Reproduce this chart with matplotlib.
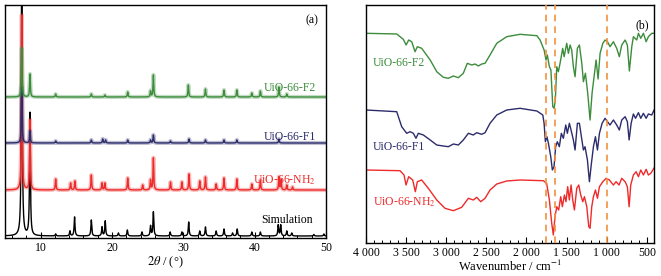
import numpy as np
import matplotlib
matplotlib.use("Agg")
import matplotlib.pyplot as plt
from matplotlib.ticker import MultipleLocator, FixedLocator, FixedFormatter

plt.rcParams["font.family"] = ["Liberation Serif", "DejaVu Serif"]
plt.rcParams["mathtext.fontset"] = "stix"

# ---- (a) XRD: peak positions (2theta, deg) and heights (a.u.) ----
sim_pos = [7.35, 8.5, 12.1, 14.1, 14.75, 17.1, 18.6, 19.05, 20.9, 22.15, 24.2, 25.4, 25.8,
           28.15, 29.8, 30.75, 32.3, 33.1, 34.6, 35.7, 36.9, 37.55, 39.6, 40.8, 43.3, 43.65,
           44.5, 45.2, 48.3, 49.7]
sim_int = [300, 123, 2, 5, 19, 16, 9, 15, 3, 6, 4, 10, 24,
           4, 4, 14, 5, 9, 5, 7, 3, 7, 4, 4, 11, 11,
           5, 3, 1.5, 2]

nh2_pos = [7.35, 8.5, 12.1, 14.2, 14.8, 17.1, 18.6, 19.0, 22.2, 24.3, 25.4, 25.8, 28.2,
           29.8, 30.8, 32.3, 33.1, 34.6, 35.7, 37.5, 39.6, 40.8, 43.4, 43.7, 44.5, 45.3]
nh2_int = [175, 70, 11, 7, 9, 15, 7, 7, 12, 5, 10, 32, 8,
           8, 16, 9, 13, 6, 12, 11, 6, 10, 13, 10, 5, 3]

f1_pos = [7.35, 8.5, 12.1, 17.1, 18.7, 19.1, 22.2, 25.4, 25.8, 28.2, 30.8, 33.1, 35.7, 37.5, 43.4]
f1_int = [56, 12, 2, 3, 4, 3, 3, 3, 8, 2, 4, 3, 3, 3, 4]

f2_pos = [7.35, 8.5, 12.1, 17.1, 19.0, 22.2, 25.4, 25.8, 30.7, 33.1, 35.7, 37.5, 39.6, 40.8,
          43.4, 44.5]
f2_int = [49, 23, 3, 3, 2, 5, 6, 22, 12, 8, 7, 7, 4, 6, 10, 3]

xrd_offsets = {"sim": 2, "nh2": 48, "f1": 95, "f2": 141}

# ---- (b) FTIR: wavenumber (cm-1) and transmittance (a.u., stacked) ----
ir_f2_wn = [4000, 3617, 3535, 3500, 3468, 3430, 3389, 3360, 3306, 3200, 3118, 3036, 2974, 2911,
            2849, 2787, 2737, 2682, 2641, 2600, 2557, 2516, 2454, 2370, 2246, 2080, 1870, 1830,
            1780, 1756, 1740, 1714, 1695, 1672, 1655, 1640, 1622, 1602, 1581, 1548, 1530, 1498,
            1477, 1456, 1436, 1415, 1394, 1365, 1340, 1310, 1290, 1265, 1236, 1207, 1182, 1157,
            1132, 1107, 1082, 1048, 1020, 990, 958, 916, 875, 842, 812, 770, 742, 717, 687, 667,
            625, 604, 575, 542, 508, 480, 438, 409]
ir_f2_t = [209.7, 209, 203.7, 198, 203, 201.3, 191.3, 196.3, 194.7, 183, 171.3, 165.7, 164.7, 167,
           165.3, 169.7, 179.7, 178, 179, 177, 179, 179.7, 188, 199.7, 206.3, 208.7, 207.3, 203,
           193, 183, 188, 176.3, 173, 136.3, 134.7, 143, 176.3, 171.3, 179.7, 194.7, 186.3, 199.7,
           189.7, 198, 193, 176.3, 166.3, 194.7, 198, 179.7, 161.3, 169.7, 149.7, 123, 149.7, 166.3,
           183, 164, 189.7, 199.7, 203, 201.3, 196.3, 201.3, 194.7, 186.3, 198, 203, 198, 172, 196.3, 206.3,
           203, 209.7, 204.7, 209.7, 201.3, 206.3, 209.7, 209.7]

ir_f1_wn = [4000, 3617, 3555, 3493, 3450, 3410, 3377, 3348, 3285, 3200, 3118, 3036, 2974, 2911,
            2849, 2787, 2724, 2662, 2620, 2557, 2516, 2454, 2370, 2246, 2080, 1870, 1796, 1780,
            1764, 1745, 1726, 1697, 1677, 1656, 1636, 1615, 1590, 1565, 1540, 1510, 1490, 1465,
            1444, 1415, 1394, 1365, 1340, 1315, 1290, 1270, 1240, 1215, 1190, 1165, 1140, 1115,
            1090, 1057, 1020, 990, 958, 916, 875, 842, 812, 770, 742, 720, 695, 667, 640, 604,
            575, 542, 508, 480, 438, 409]
ir_f1_t = [133, 131.3, 116.3, 109.7, 111.3, 109.7, 104.7, 109.7, 108, 103, 98, 97, 96.3, 99,
           98, 103, 109.7, 108, 110.3, 108.7, 110.3, 119.7, 128, 133, 134.7, 132, 128, 119.7,
           101.3, 106.3, 99.7, 86.3, 73, 76.3, 96.3, 101.3, 96.3, 109.7, 104.7, 118, 109.7, 119.7,
           113, 103, 93, 119.7, 119.7, 106.3, 93, 96.3, 83, 61.3, 79.7, 96.3, 106.3, 93,
           109.7, 119.7, 124.7, 121.3, 118, 123, 118, 113, 123, 126.3, 121.3, 103, 119.7, 129, 124.7, 130.3,
           124.7, 129.7, 124.7, 129, 128, 133]

ir_nh2_wn = [4000, 3576, 3526, 3501, 3468, 3418, 3385, 3360, 3306, 3223, 3118, 3015, 2911, 2807,
             2724, 2662, 2620, 2570, 2516, 2454, 2370, 2246, 2080, 1790, 1748, 1714, 1685, 1665,
             1644, 1622, 1598, 1573, 1552, 1527, 1507, 1486, 1465, 1444, 1423, 1402, 1373, 1348,
             1323, 1298, 1277, 1248, 1223, 1207, 1186, 1165, 1140, 1115, 1090, 1048, 1007, 966,
             916, 883, 846, 812, 770, 742, 720, 700, 667, 633, 604, 575, 542, 508, 480, 450, 409]
ir_nh2_t = [73, 72.3, 68, 58, 66.3, 63, 51.3, 61.3, 63, 54.7, 43, 34.7, 32.3, 35.7,
            44.7, 43, 45.7, 41.3, 44.7, 53, 59, 62, 63, 62.3, 59.7, 43, 19.7, 8,
            26.3, 36.3, 33, 46.3, 36.3, 48, 41.3, 56.3, 43, 58, 43, 33, 54.7, 58,
            48, 41.3, 46.3, 36.3, 16.3, 14.7, 36.3, 46.3, 53, 44.7, 56.3, 61.3, 64.7, 63,
            58, 61.3, 58, 64.7, 61.3, 56.3, 36.3, 58, 68, 71.3, 66.3, 73, 68, 73.7, 68, 69.7, 75]

marker_wn = [1755, 1640, 990]

C_GREEN = "#3c8c3c"
C_NAVY = "#2c2c6c"
C_RED = "#ee2a2a"
C_ORANGE = "#f2913e"


def pattern(x, pos, inten, hw):
    y = np.zeros_like(x)
    for p, h in zip(pos, inten):
        y += h / (1.0 + ((x - p) / hw) ** 2)
    return y


fig = plt.figure(figsize=(6.61, 2.76), dpi=100)
ax1 = fig.add_axes([5 / 661, 38 / 276, 321 / 661, 233 / 276])
ax2 = fig.add_axes([366 / 661, 33 / 276, 288 / 661, 238 / 276])

# ---- panel (a) ----
tt = np.linspace(5, 50, 6000)
curves = [
    (sim_pos, sim_int, 0.07, xrd_offsets["sim"], "black"),
    (nh2_pos, nh2_int, 0.06, xrd_offsets["nh2"], C_RED),
    (f1_pos, f1_int, 0.06, xrd_offsets["f1"], C_NAVY),
    (f2_pos, f2_int, 0.06, xrd_offsets["f2"], C_GREEN),
]
for pos, inten, hw, off, col in curves:
    y = off + pattern(tt, pos, inten, hw)
    if col != "black":
        # soft band standing in for the measured noise
        ax1.plot(tt, y, color=col, lw=3.0, alpha=0.3, solid_capstyle="butt")
    ax1.plot(tt, y, color=col, lw=1.0)

ax1.set_xlim(5, 50)
ax1.set_ylim(0, 233)
ax1.set_yticks([])
ax1.xaxis.set_major_locator(FixedLocator([10, 20, 30, 40, 50]))
ax1.xaxis.set_minor_locator(MultipleLocator(2))
ax1.set_xlabel(r"$\mathit{2\theta}$ / (°)", fontsize=9, labelpad=0)

ax1.text(48.6, 150, "UiO-66-F2", color=C_GREEN, ha="right", va="center", fontsize=8.5)
ax1.text(48.6, 101, "UiO-66-F1", color=C_NAVY, ha="right", va="center", fontsize=8.5)
ax1.text(48.6, 58, r"UiO-66-NH$_2$", color=C_RED, ha="right", va="center", fontsize=8.5)
ax1.text(48.2, 18, "Simulation", color="black", ha="right", va="center", fontsize=8.5)
ax1.text(48.9, 218, "(a)", color="black", ha="right", va="center", fontsize=8.5)

# ---- panel (b) ----
for wn, t, col in [(ir_nh2_wn, ir_nh2_t, C_RED), (ir_f1_wn, ir_f1_t, C_NAVY),
                   (ir_f2_wn, ir_f2_t, C_GREEN)]:
    ax2.plot(wn, t, color=col, lw=1.0)
for m in marker_wn:
    ax2.axvline(m, color=C_ORANGE, lw=1.2, ls=(0, (4, 3)), zorder=5)

ax2.set_xlim(4000, 410)
ax2.set_ylim(0, 238)
ax2.set_yticks([])
ir_ticks = [4000, 3500, 3000, 2500, 2000, 1500, 1000, 500]
ax2.xaxis.set_major_locator(FixedLocator(ir_ticks))
ax2.xaxis.set_major_formatter(FixedFormatter(
    [f"{v:,}".replace(",", " ") for v in ir_ticks]))
ax2.xaxis.set_minor_locator(MultipleLocator(100))
ax2.set_xlabel(r"Wavenumber / cm$^{-1}$", fontsize=9, labelpad=0)

ax2.text(3910, 180, "UiO-66-F2", color=C_GREEN, ha="left", va="center", fontsize=8.5)
ax2.text(3910, 96, "UiO-66-F1", color=C_NAVY, ha="left", va="center", fontsize=8.5)
ax2.text(3910, 41, r"UiO-66-NH$_2$", color=C_RED, ha="left", va="center", fontsize=8.5)
ax2.text(560, 218, "(b)", color="black", ha="center", va="center", fontsize=8.5)

for ax in (ax1, ax2):
    for s in ax.spines.values():
        s.set_linewidth(1.0)
    ax.tick_params(axis="x", which="major", direction="in", length=4, width=0.8,
                   labelsize=8.5, pad=3, top=False)
    ax.tick_params(axis="x", which="minor", direction="in", length=2.2, width=0.7, top=False)

fig.savefig("out.png", dpi=100)
